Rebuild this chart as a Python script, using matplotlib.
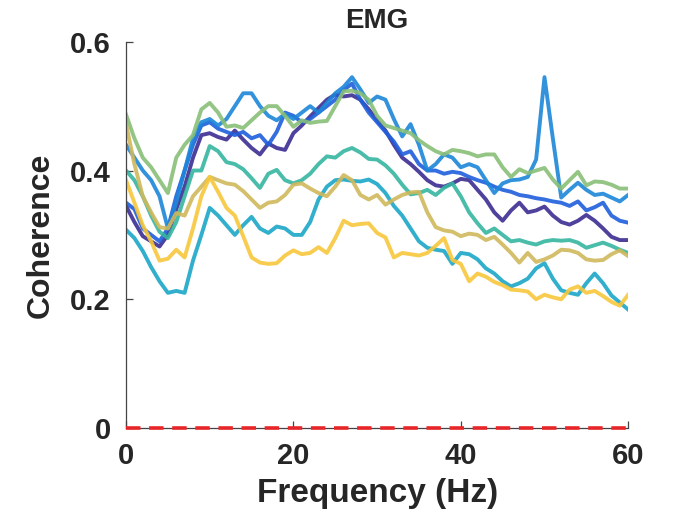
import numpy as np
import matplotlib.pyplot as plt

# frequency axis (Hz), one point per Hz
freq = np.arange(0, 61)

# coherence per channel
coh_indigo = [0.345, 0.32, 0.298, 0.29, 0.282, 0.30, 0.34, 0.375, 0.42, 0.455,
              0.458, 0.452, 0.448, 0.462, 0.448, 0.435, 0.425, 0.442, 0.435, 0.432,
              0.458, 0.47, 0.484, 0.497, 0.51, 0.518, 0.515, 0.517, 0.51, 0.495,
              0.478, 0.462, 0.44, 0.42, 0.41, 0.398, 0.385, 0.377, 0.375, 0.38,
              0.387, 0.385, 0.37, 0.355, 0.335, 0.322, 0.338, 0.35, 0.335, 0.338,
              0.344, 0.33, 0.32, 0.316, 0.322, 0.331, 0.322, 0.31, 0.297, 0.292, 0.292]
coh_blue = [0.35, 0.34, 0.31, 0.30, 0.29, 0.31, 0.36, 0.40, 0.44, 0.47,
            0.475, 0.465, 0.46, 0.455, 0.46, 0.45, 0.455, 0.44, 0.46, 0.49,
            0.485, 0.475, 0.48, 0.49, 0.50, 0.51, 0.525, 0.535, 0.51, 0.49,
            0.475, 0.46, 0.445, 0.425, 0.43, 0.41, 0.40, 0.40, 0.395, 0.398,
            0.396, 0.39, 0.385, 0.381, 0.375, 0.37, 0.367, 0.362, 0.36, 0.357,
            0.355, 0.352, 0.35, 0.345, 0.352, 0.338, 0.343, 0.35, 0.33, 0.322, 0.319]
coh_midblue = [0.44, 0.42, 0.40, 0.385, 0.36, 0.31, 0.35, 0.40, 0.45, 0.475,
               0.48, 0.47, 0.48, 0.50, 0.52, 0.52, 0.50, 0.485, 0.478, 0.488,
               0.48, 0.49, 0.50, 0.49, 0.505, 0.52, 0.53, 0.545, 0.526, 0.505,
               0.515, 0.51, 0.48, 0.453, 0.472, 0.44, 0.40, 0.41, 0.425, 0.42,
               0.405, 0.41, 0.405, 0.385, 0.365, 0.38, 0.385, 0.386, 0.39, 0.417,
               0.545, 0.45, 0.358, 0.37, 0.381, 0.37, 0.362, 0.364, 0.358, 0.352, 0.362]
coh_cyan = [0.308, 0.295, 0.275, 0.25, 0.228, 0.21, 0.213, 0.21, 0.26, 0.30,
            0.342, 0.33, 0.315, 0.30, 0.315, 0.328, 0.31, 0.303, 0.313, 0.31,
            0.30, 0.30, 0.32, 0.355, 0.375, 0.385, 0.386, 0.384, 0.383, 0.386,
            0.379, 0.365, 0.345, 0.33, 0.31, 0.29, 0.28, 0.277, 0.275, 0.255,
            0.272, 0.27, 0.262, 0.248, 0.24, 0.228, 0.22, 0.225, 0.232, 0.248,
            0.256, 0.232, 0.214, 0.21, 0.207, 0.225, 0.24, 0.225, 0.206, 0.195, 0.184]
coh_teal = [0.40, 0.385, 0.36, 0.33, 0.305, 0.295, 0.32, 0.36, 0.40, 0.40,
            0.438, 0.43, 0.413, 0.41, 0.402, 0.388, 0.373, 0.395, 0.401, 0.385,
            0.38, 0.385, 0.395, 0.41, 0.422, 0.42, 0.43, 0.435, 0.428, 0.418,
            0.417, 0.408, 0.395, 0.378, 0.363, 0.365, 0.37, 0.362, 0.373, 0.38,
            0.36, 0.335, 0.318, 0.303, 0.31, 0.30, 0.29, 0.292, 0.288, 0.285,
            0.29, 0.292, 0.291, 0.292, 0.288, 0.28, 0.284, 0.288, 0.283, 0.277, 0.272]
coh_green = [0.487, 0.45, 0.42, 0.405, 0.385, 0.365, 0.42, 0.44, 0.455, 0.495,
             0.505, 0.49, 0.468, 0.47, 0.466, 0.478, 0.49, 0.50, 0.50, 0.485,
             0.468, 0.478, 0.474, 0.476, 0.477, 0.50, 0.523, 0.524, 0.52, 0.51,
             0.485, 0.47, 0.466, 0.462, 0.458, 0.447, 0.438, 0.43, 0.425, 0.432,
             0.43, 0.427, 0.422, 0.425, 0.425, 0.405, 0.39, 0.402, 0.396, 0.40,
             0.404, 0.386, 0.372, 0.385, 0.398, 0.377, 0.383, 0.382, 0.378, 0.372, 0.372]
coh_olive = [0.472, 0.41, 0.36, 0.335, 0.312, 0.31, 0.334, 0.33, 0.36, 0.375,
             0.39, 0.385, 0.38, 0.378, 0.368, 0.355, 0.342, 0.35, 0.352, 0.362,
             0.378, 0.38, 0.372, 0.365, 0.36, 0.375, 0.393, 0.385, 0.362, 0.355,
             0.362, 0.347, 0.355, 0.362, 0.366, 0.367, 0.335, 0.312, 0.307, 0.305,
             0.298, 0.302, 0.30, 0.292, 0.297, 0.285, 0.272, 0.257, 0.272, 0.258,
             0.262, 0.268, 0.277, 0.276, 0.272, 0.262, 0.26, 0.261, 0.27, 0.276, 0.267]
coh_yellow = [0.385, 0.35, 0.315, 0.29, 0.26, 0.263, 0.277, 0.265, 0.31, 0.36,
              0.39, 0.367, 0.342, 0.33, 0.298, 0.265, 0.257, 0.255, 0.256, 0.268,
              0.276, 0.27, 0.272, 0.281, 0.272, 0.295, 0.322, 0.315, 0.317, 0.318,
              0.303, 0.296, 0.265, 0.272, 0.27, 0.268, 0.272, 0.283, 0.295, 0.261,
              0.255, 0.228, 0.24, 0.235, 0.227, 0.222, 0.215, 0.214, 0.212, 0.20,
              0.207, 0.203, 0.20, 0.215, 0.22, 0.21, 0.213, 0.205, 0.196, 0.19, 0.207]

series = [coh_indigo, coh_blue, coh_midblue, coh_cyan,
          coh_teal, coh_green, coh_olive, coh_yellow]
colors = ['#3b2d92', '#1f5fdc', '#1d86d9', '#1aa6c8',
          '#35b6a0', '#88bf78', '#cfb85c', '#f7c73c']

# significance level (flat at zero here)
sig_level = 0.0

plt.rcParams['font.family'] = ['Liberation Sans', 'DejaVu Sans']
plt.rcParams['font.weight'] = 'bold'

fig = plt.figure(figsize=(6.74, 5.22), dpi=100)
ax = fig.add_axes([0.187, 0.18, 0.745, 0.74])

for y, c in zip(series, colors):
    ax.plot(freq, y, color=c, lw=2.8, alpha=0.9, solid_joinstyle='round')

ax.plot([freq[0], freq[-1]], [sig_level, sig_level], color='#e8262a',
        lw=2.6, dashes=(4, 2.4), clip_on=False, zorder=5)

ax.set_xlim(0, 60)
ax.set_ylim(0, 0.6)
ax.set_xticks([0, 20, 40, 60])
ax.set_yticks([0, 0.2, 0.4, 0.6])
ax.set_yticklabels(['0', '0.2', '0.4', '0.6'])

for s in ['top', 'right']:
    ax.spines[s].set_visible(False)
for s in ['left', 'bottom']:
    ax.spines[s].set_color('#444444')
    ax.spines[s].set_linewidth(0.9)

ax.tick_params(direction='in', length=5, width=0.9, colors='#444444',
               labelsize=21, labelcolor='#262626')
ax.tick_params(axis='x', pad=10)
ax.tick_params(axis='y', pad=11)

ax.set_xlabel('Frequency (Hz)', fontsize=24, fontweight='bold', color='#262626', labelpad=6)
ax.set_ylabel('Coherence', fontsize=23, fontweight='bold', color='#262626', labelpad=10)
ax.set_title('EMG', fontsize=20, fontweight='bold', color='#262626', pad=10)

fig.savefig('out.png', dpi=100)
